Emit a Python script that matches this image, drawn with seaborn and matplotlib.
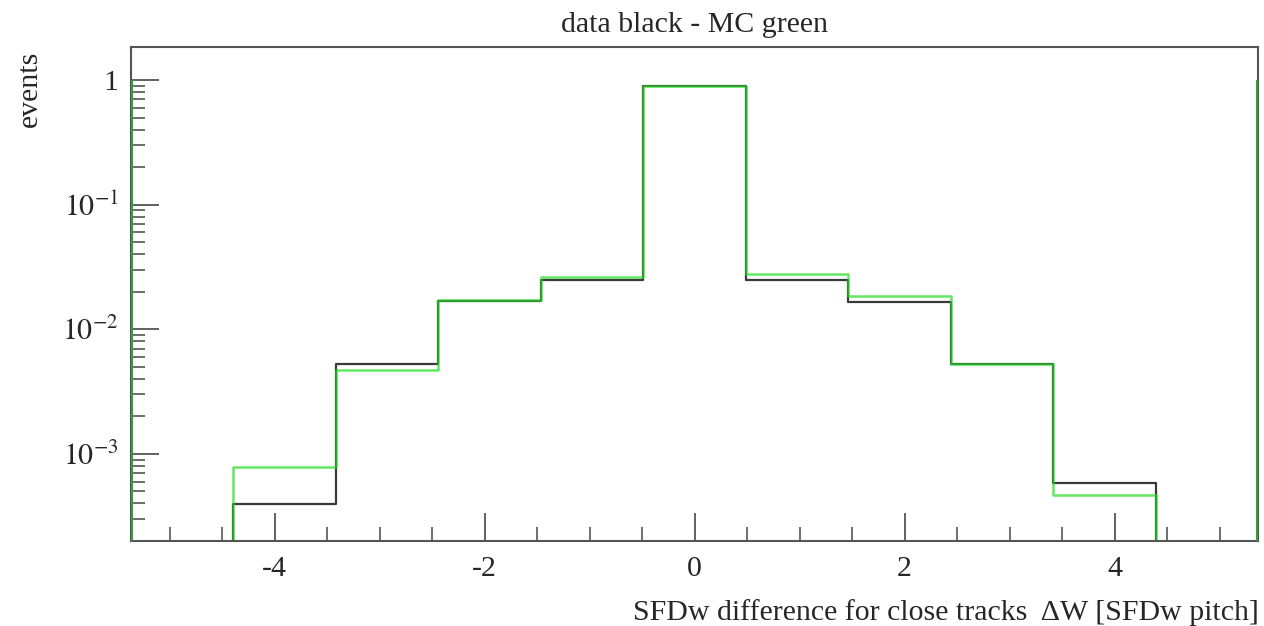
import numpy as np
import pandas as pd
import matplotlib
matplotlib.use("Agg")
import matplotlib.pyplot as plt
import matplotlib.ticker as ticker
import seaborn as sns

# histogram bins (11 bins, outer ones empty)
bin_edges = [float(e) for e in np.linspace(-5.37, 5.37, 12)]
bin_centers = [-5, -4, -3, -2, -1, 0, 1, 2, 3, 4, 5]

# normalised entries per bin
data_vals = [0.0, 3.96e-4, 5.3e-3, 1.70e-2, 2.50e-2, 0.90, 2.48e-2, 1.65e-2, 5.25e-3, 5.8e-4, 0.0]
mc_vals = [0.0, 7.8e-4, 4.75e-3, 1.72e-2, 2.62e-2, 0.90, 2.80e-2, 1.85e-2, 5.25e-3, 4.7e-4, 0.0]

# ROOT draws the outermost edges up to ~1
edge_top = 1.0

y_range = (2.0e-4, 1.83)

sns.set_style("white")
plt.rcParams["font.family"] = ["Liberation Serif", "DejaVu Serif"]
plt.rcParams["mathtext.fontset"] = "stix"

df = pd.DataFrame({
    "x": bin_centers * 2,
    "w": data_vals + mc_vals,
    "sample": ["data"] * len(bin_centers) + ["MC"] * len(bin_centers),
})

fig = plt.figure(figsize=(12.64, 6.26), dpi=100)
ax = fig.add_axes([0.1036, 0.1358, 0.892, 0.7886])

sns.histplot(data=df[df["sample"] == "data"], x="x", weights="w", bins=bin_edges,
             element="step", fill=False, color="#3a3a3a", linewidth=1.6, ax=ax)
sns.histplot(data=df[df["sample"] == "MC"], x="x", weights="w", bins=bin_edges,
             element="step", fill=False, color="#22dd22", alpha=0.7, linewidth=1.8, ax=ax)

ax.set_yscale("log")
ax.set_xlim(bin_edges[0], bin_edges[-1])
ax.set_ylim(*y_range)
ax.vlines([bin_edges[0], bin_edges[-1]], y_range[0], edge_top, color="#3c9a3c", linewidth=3, zorder=5)

# ticks, ROOT style
ax.xaxis.set_major_locator(ticker.FixedLocator([-4, -2, 0, 2, 4]))
ax.xaxis.set_minor_locator(ticker.MultipleLocator(0.5))
ax.set_xticklabels(["-4", "-2", "0", "2", "4"])
ax.yaxis.set_major_locator(ticker.FixedLocator([1e-3, 1e-2, 1e-1, 1]))
ax.yaxis.set_minor_locator(ticker.LogLocator(base=10.0, subs=range(2, 10)))
ax.yaxis.set_minor_formatter(ticker.NullFormatter())
ax.set_yticklabels([r"$10^{-3}$", r"$10^{-2}$", r"$10^{-1}$", "1"])

ax.tick_params(axis="both", which="both", bottom=True, left=True, top=False, right=False)
ax.tick_params(axis="both", which="major", direction="in", length=20, width=1.3,
               color="#555555", labelsize=21.5, pad=11)
ax.tick_params(axis="both", which="minor", direction="in", length=10, width=1.2,
               color="#555555")
ax.tick_params(axis="y", which="major", pad=9)

for s in ax.spines.values():
    s.set_color("#555555")
    s.set_linewidth(1.5)

ax.set_title("data black - MC green", fontsize=21.5, pad=11)
ax.set_xlabel("SFDw difference for close tracks  \u0394W [SFDw pitch]", fontsize=21.5,
              loc="right", labelpad=12)
ax.set_ylabel("events", fontsize=21.5, va="center", ha="center")
ax.yaxis.set_label_coords(-0.09, 0.915)

fig.savefig("out.png", dpi=100)
